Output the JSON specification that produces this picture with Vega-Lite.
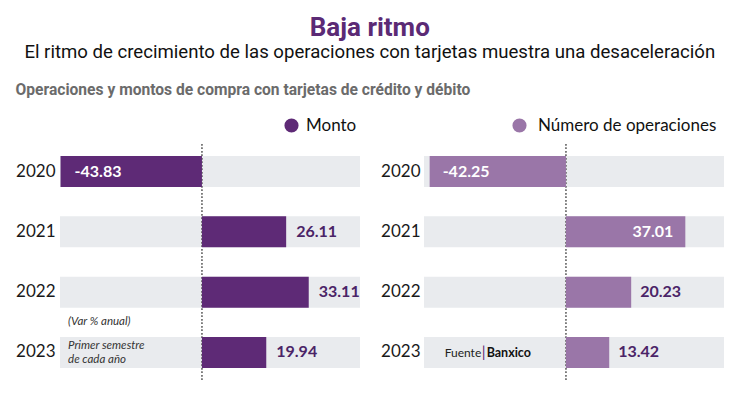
{
  "$schema": "https://vega.github.io/schema/vega-lite/v6.json",
  "padding": {"left": 15, "top": 14, "right": 5, "bottom": 5},
  "background": "white",
  "config": {
    "view": {"stroke": null},
    "font": "Lato",
    "locale": {"number": {"decimal": ".", "thousands": ",", "grouping": [3], "currency": ["$", ""], "minus": "-"}}
  },
  "title": {
    "text": "Baja ritmo",
    "subtitle": "El ritmo de crecimiento de las operaciones con tarjetas muestra una desaceleración",
    "anchor": "middle",
    "font": "Roboto",
    "fontSize": 26,
    "fontWeight": "bold",
    "color": "#5b2a75",
    "subtitleFont": "Roboto",
    "subtitleFontSize": 18.6,
    "subtitleColor": "#111111",
    "subtitlePadding": 2,
    "offset": 22
  },
  "datasets": {
    "monto": [
      {"year": "2020", "serie": "Monto", "value": -43.83},
      {"year": "2021", "serie": "Monto", "value": 26.11},
      {"year": "2022", "serie": "Monto", "value": 33.11},
      {"year": "2023", "serie": "Monto", "value": 19.94}
    ],
    "ops": [
      {"year": "2020", "serie": "Número de operaciones", "value": -42.25},
      {"year": "2021", "serie": "Número de operaciones", "value": 37.01},
      {"year": "2022", "serie": "Número de operaciones", "value": 20.23},
      {"year": "2023", "serie": "Número de operaciones", "value": 13.42}
    ]
  },
  "vconcat": [
    {
      "title": {
        "text": "Operaciones y montos de compra con tarjetas de crédito y débito",
        "anchor": "start",
        "frame": "bounds",
        "font": "Roboto",
        "fontSize": 15.6,
        "fontWeight": "bold",
        "color": "#6b6b6b",
        "offset": 18
      },
      "spacing": 20,
      "resolve": {
        "scale": {"color": "independent", "x": "independent", "y": "independent"},
        "legend": {"color": "independent"},
        "axis": {"y": "independent"}
      },
      "hconcat": [
        {
          "width": 300,
          "height": 236,
          "data": {"name": "monto"},
          "encoding": {
            "y": {
              "field": "year",
              "type": "nominal",
              "scale": {"paddingInner": 0.486, "paddingOuter": 0.2},
              "axis": {
                "title": null, "domain": false, "ticks": false,
                "labelFontSize": 17, "labelColor": "#1a1a1a", "labelPadding": 5, "labelFont": "Lato"
              }
            }
          },
          "layer": [
            {
              "mark": {"type": "bar", "color": "#e9ebee"},
              "encoding": {
                "x": {"datum": -44, "type": "quantitative", "scale": {"domain": [-44, 49], "nice": false}, "axis": null},
                "x2": {"datum": 49}
              }
            },
            {
              "mark": {"type": "rule", "color": "#777777", "strokeDash": [1.5, 2], "strokeWidth": 1},
              "encoding": {"x": {"datum": 0, "type": "quantitative"}, "y": null}
            },
            {
              "mark": {"type": "bar"},
              "encoding": {
                "x": {"field": "value", "type": "quantitative"},
                "x2": {"datum": 0},
                "color": {
                  "field": "serie", "type": "nominal",
                  "scale": {"domain": ["Monto"], "range": ["#5e2a76"]},
                  "legend": {
                    "title": null, "orient": "none", "legendX": 223, "legendY": -27,
                    "symbolType": "circle", "symbolSize": 200, "symbolStrokeWidth": 0,
                    "labelFontSize": 17, "labelColor": "#111111", "labelFont": "Lato", "labelOffset": 6, "labelLimit": 300
                  }
                }
              }
            },
            {
              "transform": [{"filter": "datum.value < 0"}],
              "mark": {"type": "text", "align": "left", "baseline": "middle", "dx": 14, "color": "white", "fontSize": 16, "fontWeight": "bold"},
              "encoding": {"x": {"field": "value", "type": "quantitative"}, "text": {"field": "value", "type": "quantitative", "format": ".2f"}}
            },
            {
              "transform": [{"filter": "datum.value >= 0 && datum.value <= 35"}],
              "mark": {"type": "text", "align": "left", "baseline": "middle", "dx": 10, "color": "#4b2467", "fontSize": 16, "fontWeight": "bold"},
              "encoding": {"x": {"field": "value", "type": "quantitative"}, "text": {"field": "value", "type": "quantitative", "format": ".2f"}}
            },
            {
              "data": {"values": [{}]},
              "mark": {"type": "text", "align": "left", "baseline": "middle", "dy": -30, "fontSize": 11.5, "fontStyle": "italic", "color": "#333333"},
              "encoding": {
                "x": {"datum": -41.5, "type": "quantitative"},
                "y": {"datum": "2023", "bandPosition": 0.5},
                "text": {"value": "(Var % anual)"}
              }
            },
            {
              "data": {"values": [{}]},
              "mark": {"type": "text", "align": "left", "baseline": "middle", "dy": -6, "fontSize": 11.5, "fontStyle": "italic", "color": "#333333"},
              "encoding": {
                "x": {"datum": -41.5, "type": "quantitative"},
                "y": {"datum": "2023", "bandPosition": 0.5},
                "text": {"value": "Primer semestre"}
              }
            },
            {
              "data": {"values": [{}]},
              "mark": {"type": "text", "align": "left", "baseline": "middle", "dy": 8, "fontSize": 11.5, "fontStyle": "italic", "color": "#333333"},
              "encoding": {
                "x": {"datum": -41.5, "type": "quantitative"},
                "y": {"datum": "2023", "bandPosition": 0.5},
                "text": {"value": "de cada año"}
              }
            }
          ]
        },
        {
          "width": 300,
          "height": 236,
          "data": {"name": "ops"},
          "encoding": {
            "y": {
              "field": "year",
              "type": "nominal",
              "scale": {"paddingInner": 0.486, "paddingOuter": 0.2},
              "axis": {
                "title": null, "domain": false, "ticks": false,
                "labelFontSize": 17, "labelColor": "#1a1a1a", "labelPadding": 4, "labelFont": "Lato"
              }
            }
          },
          "layer": [
            {
              "mark": {"type": "bar", "color": "#e9ebee"},
              "encoding": {
                "x": {"datum": -44, "type": "quantitative", "scale": {"domain": [-44, 49], "nice": false}, "axis": null},
                "x2": {"datum": 49}
              }
            },
            {
              "mark": {"type": "rule", "color": "#777777", "strokeDash": [1.5, 2], "strokeWidth": 1},
              "encoding": {"x": {"datum": 0, "type": "quantitative"}, "y": null}
            },
            {
              "mark": {"type": "bar"},
              "encoding": {
                "x": {"field": "value", "type": "quantitative"},
                "x2": {"datum": 0},
                "color": {
                  "field": "serie", "type": "nominal",
                  "scale": {"domain": ["Número de operaciones"], "range": ["#9a76a8"]},
                  "legend": {
                    "title": null, "orient": "none", "legendX": 87, "legendY": -27,
                    "symbolType": "circle", "symbolSize": 200, "symbolStrokeWidth": 0,
                    "labelFontSize": 17, "labelColor": "#111111", "labelFont": "Lato", "labelOffset": 10, "labelLimit": 300
                  }
                }
              }
            },
            {
              "transform": [{"filter": "datum.value < 0"}],
              "mark": {"type": "text", "align": "left", "baseline": "middle", "dx": 13, "color": "white", "fontSize": 16, "fontWeight": "bold"},
              "encoding": {"x": {"field": "value", "type": "quantitative"}, "text": {"field": "value", "type": "quantitative", "format": ".2f"}}
            },
            {
              "transform": [{"filter": "datum.value > 35"}],
              "mark": {"type": "text", "align": "right", "baseline": "middle", "dx": -12, "color": "white", "fontSize": 16, "fontWeight": "bold"},
              "encoding": {"x": {"field": "value", "type": "quantitative"}, "text": {"field": "value", "type": "quantitative", "format": ".2f"}}
            },
            {
              "transform": [{"filter": "datum.value >= 0 && datum.value <= 35"}],
              "mark": {"type": "text", "align": "left", "baseline": "middle", "dx": 9, "color": "#4b2467", "fontSize": 16, "fontWeight": "bold"},
              "encoding": {"x": {"field": "value", "type": "quantitative"}, "text": {"field": "value", "type": "quantitative", "format": ".2f"}}
            },
            {
              "data": {"values": [{}]},
              "mark": {"type": "text", "align": "left", "baseline": "middle", "dy": 1, "fontSize": 12, "color": "#222222"},
              "encoding": {
                "x": {"datum": -37.6, "type": "quantitative"},
                "y": {"datum": "2023", "bandPosition": 0.5},
                "text": {"value": "Fuente"}
              }
            },
            {
              "data": {"values": [{}]},
              "mark": {"type": "text", "align": "left", "baseline": "middle", "dx": 37, "dy": 0, "fontSize": 15, "color": "#5e2a76"},
              "encoding": {
                "x": {"datum": -37.6, "type": "quantitative"},
                "y": {"datum": "2023", "bandPosition": 0.5},
                "text": {"value": "|"}
              }
            },
            {
              "data": {"values": [{}]},
              "mark": {"type": "text", "align": "left", "baseline": "middle", "dx": 42, "dy": 1, "fontSize": 12.5, "fontWeight": "bold", "color": "#111111"},
              "encoding": {
                "x": {"datum": -37.6, "type": "quantitative"},
                "y": {"datum": "2023", "bandPosition": 0.5},
                "text": {"value": "Banxico"}
              }
            }
          ]
        }
      ]
    }
  ]
}
